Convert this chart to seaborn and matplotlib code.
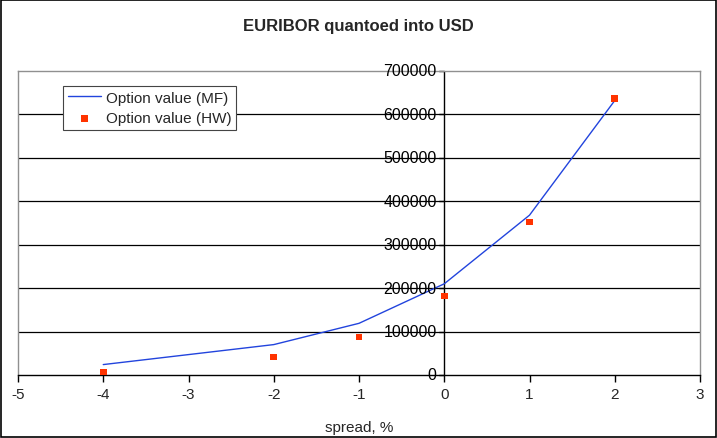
import matplotlib
matplotlib.use("Agg")
import matplotlib.pyplot as plt
import seaborn as sns
import pandas as pd

spread = [-4, -2, -1, 0, 1, 2]
value_mf = [24000, 70000, 119000, 210000, 368000, 632000]
value_hw = [7000, 41000, 88000, 182000, 352000, 637000]

df = pd.DataFrame({"spread": spread, "MF": value_mf, "HW": value_hw})

sns.set_theme(style="white")
plt.rcParams["font.family"] = ["Liberation Sans", "DejaVu Sans"]
plt.rcParams["axes.unicode_minus"] = False

fig = plt.figure(figsize=(7.17, 4.39), dpi=100)
ax = fig.add_axes([18 / 717, 1 - 376 / 439, (700 - 18) / 717, (376 - 72) / 439])

sns.lineplot(data=df, x="spread", y="MF", ax=ax, color="#2244dd", linewidth=1.0,
             label="Option value (MF)")
sns.scatterplot(data=df, x="spread", y="HW", ax=ax, color="#ff3300", marker="s",
                s=22, edgecolor="none", label="Option value (HW)", zorder=5)

ax.set_xlim(-5, 3)
ax.set_ylim(0, 700000)
ax.set_xticks(range(-5, 4))
ax.set_xticklabels([str(v) for v in range(-5, 4)])

# horizontal gridlines
for v in range(100000, 700000, 100000):
    ax.axhline(v, color="black", linewidth=0.9, zorder=0)

# gray plot-area frame
for side in ["top", "right", "left"]:
    ax.spines[side].set_color("#909090")
    ax.spines[side].set_linewidth(1.0)
ax.spines["bottom"].set_color("black")
ax.spines["bottom"].set_linewidth(1.0)

# y axis drawn through x = 0
ax.axvline(0, color="black", linewidth=1.0, zorder=1)
ax.tick_params(axis="x", direction="out", length=5, width=1, color="black",
               labelsize=11, pad=4, bottom=True)
ax.tick_params(axis="y", left=False, labelleft=False)
for v in range(0, 700001, 100000):
    ax.plot([-0.06, 0], [v, v], color="black", linewidth=1.0, clip_on=False, zorder=2)
    ax.text(-0.09, v, str(v), ha="right", va="center", fontsize=11.5, color="black",
            zorder=3)

ax.set_xlabel("spread, %", fontsize=11, labelpad=13)
ax.set_ylabel("")

fig.text(0.5, 1 - 26 / 439, "EURIBOR quantoed into USD", ha="center", va="center",
         fontsize=12, fontweight="bold")

leg = ax.legend(loc="upper left", bbox_to_anchor=(45 / 682, 1 - 15 / 304),
                fontsize=11, frameon=True, fancybox=False, borderpad=0.3,
                handlelength=2.2, handletextpad=0.3, labelspacing=0.45,
                borderaxespad=0)
leg.get_frame().set_edgecolor("#444444")
leg.get_frame().set_linewidth(0.8)
leg.get_frame().set_facecolor("white")
leg.get_frame().set_alpha(1)

# outer figure border
fig.patches.append(plt.Rectangle((0.001, 0.002), 0.997, 0.996, transform=fig.transFigure,
                                 fill=False, edgecolor="black", linewidth=1.2))

fig.savefig("out.png", dpi=100)
